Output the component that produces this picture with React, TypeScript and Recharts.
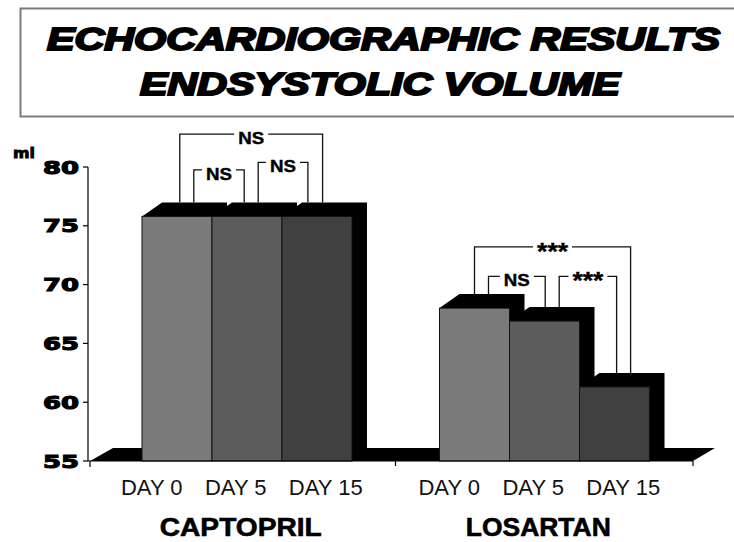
import React from "react";
import { BarChart, Bar, XAxis, YAxis, ReferenceArea } from "recharts";

// values (ml)
const groups = ["CAPTOPRIL", "LOSARTAN"];
const days = ["DAY 0", "DAY 5", "DAY 15"];
const day0 = [75.8, 68.0];
const day5 = [75.8, 66.9];
const day15 = [75.8, 61.3];
const yTicks = [55, 60, 65, 70, 75, 80];

// significance brackets: group, first bar, last bar, label, height (ml)
const sigGroup = [0, 0, 0, 1, 1, 1];
const sigFrom = [0, 0, 1, 0, 0, 1];
const sigTo = [2, 1, 2, 2, 1, 2];
const sigLabel = ["NS", "NS", "NS", "***", "NS", "***"];
const sigLevel = [82.8, 79.75, 80.4, 73.2, 70.7, 70.7];

// where each bracket leg sits across its bar (0 = left edge, 1 = right edge)
const legFrom = [0.54, 0.74, 0.66, 0.5, 0.7, 0.71];
const legTo = [0.58, 0.46, 0.37, 0.73, 0.51, 0.53];

const Y_MIN = 55;
const Y_MAX = 80;
const PAD_LEFT = 10;
const DEPTH_Y = 14;
const colors = ["#7a7a7a", "#5c5c5c", "#404040"];
const dayLabelOffset = [-95, -11, 79];

const data = groups.map((g, i) => ({
  group: g,
  d0: day0[i],
  d5: day5[i],
  d15: day15[i],
}));

function Bar3D(props: any) {
  const { x, y, width, height, fill } = props;
  if (width == null || height == null) return null;
  const base = y + height;
  const back = [
    [x, y],
    [x + 20, y - DEPTH_Y],
    [x + width + 15, y - DEPTH_Y],
    [x + width + 15, base],
    [x + width, base],
  ]
    .map((p) => p.join(","))
    .join(" ");
  return (
    <g>
      <polygon points={back} fill="#000" />
      <rect x={x} y={y} width={width} height={height} fill={fill} stroke="#111" strokeWidth={1} />
    </g>
  );
}

function LastBar(props: any) {
  const { x, y, width, height, payload, index } = props;
  const base = y + height;
  const k = height / (payload.d15 - Y_MIN);
  const yOf = (v: number) => base - (v - Y_MIN) * k;
  const vals = [payload.d0, payload.d5, payload.d15];
  const barX = (i: number) => x - (2 - i) * width;
  const marks: any[] = [];
  sigLabel.forEach((lab, s) => {
    if (sigGroup[s] !== index) return;
    const xa = barX(sigFrom[s]) + legFrom[s] * width;
    const xb = barX(sigTo[s]) + legTo[s] * width;
    const ly = yOf(sigLevel[s]);
    const ya = yOf(vals[sigFrom[s]]) - DEPTH_Y;
    const yb = yOf(vals[sigTo[s]]) - DEPTH_Y;
    const star = lab === "***";
    const tw = star ? 31 : 26;
    const cx = (xa + xb) / 2;
    marks.push(
      <g key={s}>
        <polyline
          points={`${xa},${ya} ${xa},${ly} ${cx - tw / 2 - 4},${ly}`}
          fill="none"
          stroke="#111"
          strokeWidth={1.3}
        />
        <polyline
          points={`${cx + tw / 2 + 4},${ly} ${xb},${ly} ${xb},${yb}`}
          fill="none"
          stroke="#111"
          strokeWidth={1.3}
        />
        <text
          x={cx}
          y={ly + (star ? 13 : 10)}
          textAnchor="middle"
          textLength={tw}
          lengthAdjust="spacingAndGlyphs"
          fontFamily="Liberation Sans, Arial, sans-serif"
          fontWeight="bold"
          fontSize={star ? 24 : 17}
          fill="#000"
          stroke="#000"
          strokeWidth={0.4}
        >
          {lab}
        </text>
      </g>
    );
  });
  return (
    <g>
      <Bar3D {...props} />
      {marks}
    </g>
  );
}

function Floor(props: any) {
  const { x, y, width, height } = props;
  const base = y + height;
  const left = x - PAD_LEFT;
  const right = x + width;
  const pts = [
    [left + 2, base],
    [left + 25, base - 13],
    [right + 22, base - 13],
    [right, base],
  ]
    .map((p) => p.join(","))
    .join(" ");
  return <polygon points={pts} fill="#000" />;
}

function GroupTick(props: any) {
  const { y, payload, index } = props;
  const cx = payload.coordinate;
  const half = payload.offset || 0;
  return (
    <g>
      <line x1={cx + half} x2={cx + half} y1={y} y2={y + 5} stroke="#000" strokeWidth={1.2} />
      {index === 0 && (
        <line
          x1={cx - half - PAD_LEFT + 2}
          x2={cx - half - PAD_LEFT + 2}
          y1={y}
          y2={y + 6}
          stroke="#000"
          strokeWidth={1.2}
        />
      )}
      {days.map((d, i) => (
        <text
          key={d}
          x={cx + dayLabelOffset[i]}
          y={y + 34}
          textAnchor="middle"
          fontFamily="Liberation Sans, Arial, sans-serif"
          fontSize={22}
          fill="#111"
        >
          {d}
        </text>
      ))}
      <text
        x={cx - 6}
        y={y + 75}
        textAnchor="middle"
        textLength={index === 0 ? 162 : 145}
        lengthAdjust="spacingAndGlyphs"
        fontFamily="Liberation Sans, Arial, sans-serif"
        fontWeight="bold"
        fontSize={26}
        fill="#000"
        stroke="#000"
        strokeWidth={0.6}
      >
        {payload.value}
      </text>
    </g>
  );
}

function ValueTick(props: any) {
  const { x, y, payload } = props;
  return (
    <text
      x={x}
      y={y + 6.5}
      textAnchor="end"
      textLength={36}
      lengthAdjust="spacingAndGlyphs"
      fontFamily="DejaVu Sans, Verdana, sans-serif"
      fontWeight="bold"
      fontSize={18}
      fill="#000"
      stroke="#000"
      strokeWidth={1.1}
    >
      {payload.value}
    </text>
  );
}

function UnitLabel(props: any) {
  const { viewBox } = props;
  return (
    <text
      x={viewBox.x + 13}
      y={viewBox.y - 9}
      textLength={22}
      lengthAdjust="spacingAndGlyphs"
      fontFamily="DejaVu Sans, Verdana, sans-serif"
      fontWeight="bold"
      fontSize={14}
      fill="#000"
      stroke="#000"
      strokeWidth={0.8}
    >
      ml
    </text>
  );
}

export default function App() {
  return (
    <div
      style={{
        position: "absolute",
        left: 0,
        top: 0,
        width: 734,
        height: 542,
        background: "#fff",
        overflow: "hidden",
      }}
    >
      <BarChart
        width={734}
        height={542}
        data={data}
        margin={{ top: 167, right: 41, bottom: 0, left: 0 }}
        barCategoryGap={44}
        barGap={0}
        style={{ position: "absolute", left: 0, top: 0 }}
      >
        <ReferenceArea y1={Y_MIN} y2={Y_MIN + 0.5} shape={Floor} ifOverflow="visible" />
        <XAxis
          dataKey="group"
          height={81}
          padding={{ left: PAD_LEFT, right: 0 }}
          axisLine={{ stroke: "#000", strokeWidth: 1.2 }}
          tickLine={false}
          tickSize={0}
          tickMargin={0}
          interval={0}
          tick={<GroupTick />}
        />
        <YAxis
          width={88}
          domain={[Y_MIN, Y_MAX]}
          ticks={yTicks}
          interval={0}
          axisLine={{ stroke: "#000", strokeWidth: 1.2 }}
          tickLine={{ stroke: "#000", strokeWidth: 1.2 }}
          tickSize={5}
          tickMargin={4}
          tick={<ValueTick />}
          label={<UnitLabel />}
        />
        <Bar dataKey="d0" fill={colors[0]} shape={Bar3D} isAnimationActive={false} />
        <Bar dataKey="d5" fill={colors[1]} shape={Bar3D} isAnimationActive={false} />
        <Bar dataKey="d15" fill={colors[2]} shape={LastBar} isAnimationActive={false} />
      </BarChart>
      <svg
        width={734}
        height={125}
        style={{ position: "absolute", left: 0, top: 0, pointerEvents: "none" }}
      >
        <rect x={20.5} y={8.5} width={760} height={108} fill="none" stroke="#7a7a7a" strokeWidth={2} />
        <text
          x={383.5}
          y={50}
          textAnchor="middle"
          textLength={673}
          lengthAdjust="spacingAndGlyphs"
          fontFamily="Liberation Sans, Arial, sans-serif"
          fontWeight="bold"
          fontStyle="italic"
          fontSize={31}
          fill="#000"
          stroke="#000"
          strokeWidth={2}
        >
          ECHOCARDIOGRAPHIC RESULTS
        </text>
        <text
          x={380}
          y={95}
          textAnchor="middle"
          textLength={480}
          lengthAdjust="spacingAndGlyphs"
          fontFamily="Liberation Sans, Arial, sans-serif"
          fontWeight="bold"
          fontStyle="italic"
          fontSize={31}
          fill="#000"
          stroke="#000"
          strokeWidth={2}
        >
          ENDSYSTOLIC VOLUME
        </text>
      </svg>
    </div>
  );
}
